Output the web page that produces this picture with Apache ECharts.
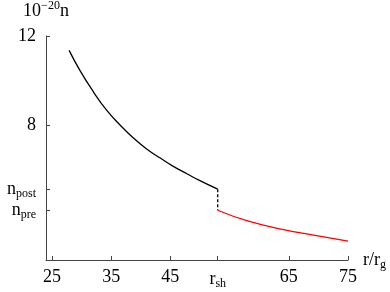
<!DOCTYPE html>
<html><head><meta charset="utf-8">
<script src="https://cdn.jsdelivr.net/npm/echarts@6/dist/echarts.min.js"></script>
<style>html,body{margin:0;padding:0;background:#fff}#c{width:390px;height:292px}</style>
</head><body><div id="c"></div>
<script>
// Data
const rShock = 53;
const nPost = 5.16;
const nPre = 4.22;
const preShockR = [27.9, 29.7, 32.0, 34.2, 36.5, 38.8, 41.0, 43.3, 45.5, 47.8, 50.0, 53.0];
const preShockN = [11.36, 10.48, 9.51, 8.70, 8.03, 7.44, 6.96, 6.55, 6.18, 5.85, 5.54, 5.16];
const postShockR = [53.0, 58.2, 64.1, 69.2, 75.0];
const postShockN = [4.22, 3.73, 3.36, 3.11, 2.84];
const xTickValues = [25, 35, 45, rShock, 65, 75];
const xTickLabels = ['25', '35', '45', '{m|r}{s|sh}', '65', '75'];
const yTickValues = [nPre, nPost, 8, 12];
const yTickLabels = ['{m|n}{s|pre}', '{m|n}{s|post}', '8', '12'];

const font = 'Liberation Serif';
const chart = echarts.init(document.getElementById('c'));
const zip = (a, b) => a.map((v, i) => [v, b[i]]);
const rich = {
  m: {fontFamily: font, fontSize: 18, color: '#000'},
  s: {fontFamily: font, fontSize: 12, color: '#000', padding: [10, 0, 0, 0]},
  p: {fontFamily: font, fontSize: 12, color: '#000', padding: [0, 0, 10, 0]}
};
chart.setOption({
  animation: false,
  grid: {left: 46, right: 42, top: 34, bottom: 32},
  xAxis: {
    type: 'value', min: 24, max: 75,
    name: '{m|r/r}{s|g}', nameLocation: 'end', nameGap: 6,
    nameTextStyle: {rich: rich, verticalAlign: 'middle'},
    axisLine: {lineStyle: {color: '#444', width: 1}},
    splitLine: {show: false},
    axisTick: {inside: true, length: 4, customValues: xTickValues, lineStyle: {color: '#444'}},
    axisLabel: {
      customValues: xTickValues, margin: 8, fontFamily: font, fontSize: 18, color: '#000', rich: rich,
      formatter: v => xTickLabels[xTickValues.indexOf(v)] || ''
    }
  },
  yAxis: {
    type: 'value', min: 2, max: 12,
    name: '{m|10}{p|−20}{m|n}', nameLocation: 'end', nameGap: 14,
    nameTextStyle: {rich: rich, align: 'center'},
    axisLine: {show: true, lineStyle: {color: '#444', width: 1}},
    splitLine: {show: false},
    axisTick: {show: true, inside: true, length: 4, customValues: yTickValues, lineStyle: {color: '#444'}},
    axisLabel: {
      customValues: yTickValues, margin: 10, fontFamily: font, fontSize: 18, color: '#000', rich: rich,
      formatter: v => yTickLabels[yTickValues.indexOf(v)] || ''
    }
  },
  series: [
    {type: 'line', data: zip(preShockR, preShockN), smooth: 0.5, symbol: 'none',
     lineStyle: {color: '#000', width: 1.3}},
    {type: 'line', data: [[rShock, nPost], [rShock, nPre]], symbol: 'none',
     lineStyle: {color: '#000', width: 1.3, type: [3, 2]}},
    {type: 'line', data: zip(postShockR, postShockN), smooth: 0.5, symbol: 'none',
     lineStyle: {color: '#ff0000', width: 1.3}}
  ]
});
</script></body></html>
